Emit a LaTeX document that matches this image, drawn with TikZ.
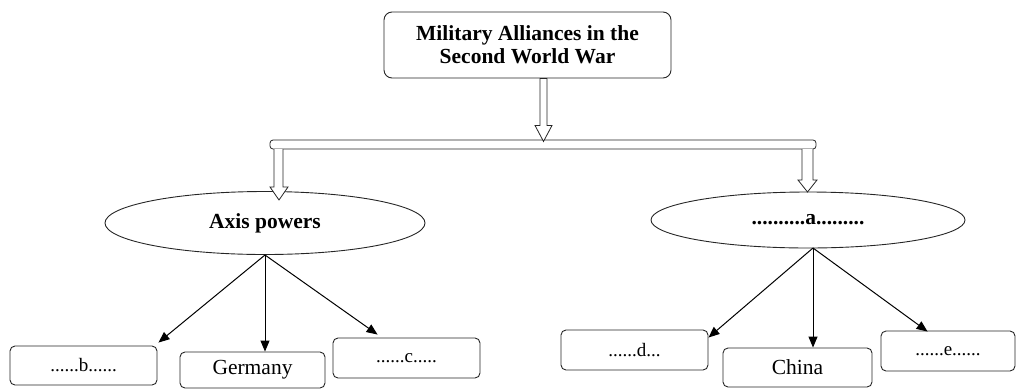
\documentclass[tikz,border=0pt]{standalone}
\usepackage{fontspec}
\setmainfont{Liberation Serif}
\usetikzlibrary{shapes.geometric,arrows.meta,calc}

\tikzset{
  line/.style={draw=black!85, line width=0.9pt},
  titlebox/.style={line, rounded corners=8pt, rectangle, align=center,
    minimum width=287pt, minimum height=66pt, inner sep=0pt,
    font=\fontsize{21.5}{23}\selectfont\bfseries},
  group/.style={line, ellipse, inner sep=0pt, font=\fontsize{21.5}{24}\selectfont\bfseries},
  leaf/.style={line, rounded corners=5pt, rectangle, inner sep=0pt,
    font=\fontsize{21.5}{24}\selectfont},
  blank/.style={leaf, font=\fontsize{19}{22}\selectfont},
  branch/.style={draw=black, line width=1pt, -{Triangle[length=11pt,width=9pt]}},
  hollow/.style={line, fill=white, line width=0.8pt}
}

\begin{document}
\begin{tikzpicture}[x=1pt,y=-1pt]
\useasboundingbox (0,0) rectangle (1019,389);

% heading
\node[titlebox] (title) at (527.5,45) {Military Alliances in the\\Second World War};

% the two alliances
\node[group, minimum width=320pt, minimum height=63pt] (axis) at (265,223) {Axis powers};
\node[group, minimum width=314pt, minimum height=56pt] (allies) at (808,220) {..........a.........};

% member countries
\node[blank, minimum width=147pt, minimum height=39pt] (b) at (83.5,365.5) {......b......};
\node[leaf,  minimum width=145pt, minimum height=36pt] (germany) at (252.5,370) {Germany};
\node[blank, minimum width=147pt, minimum height=40pt] (c) at (406.5,358) {......c.....};
\node[blank, minimum width=147pt, minimum height=40pt] (d) at (634.5,350) {......d...};
\node[leaf,  minimum width=149pt, minimum height=39pt] (china) at (797.5,367.5) {China};
\node[blank, minimum width=134pt, minimum height=40pt] (e) at (948,351) {......e......};

% block-arrow frame: down from the heading onto a bar, then down to each alliance
\coordinate (barL) at (270,140);
\coordinate (barR) at (816,149);
\draw[hollow, rounded corners=3pt] (barL) rectangle (barR);

\draw[hollow] ($(title.south)+(19.5,0)$) coordinate (m)
  -- ++(0,47) -- ++(5,0) -- ++(-8.5,16) -- ++(-8.5,-16) -- ++(5,0)
  -- ++(0,-47) -- cycle;
\draw[hollow] (274,149) -- (274,187) -- (270,187) -- (279,200) -- (288,187)
  -- (283,187) -- (283,149);
\draw[hollow] (802,149) -- (802,180) -- (798,180) -- (807.5,192) -- (817,180)
  -- (813,180) -- (813,149);

% branches to the members
\coordinate (axisfoot) at (265,255);
\coordinate (alliesfoot) at (813,248);
\draw[branch] (axisfoot) -- ($(b.north east)+(1,-3)$);
\draw[branch] (axisfoot) -- (axisfoot |- germany.north);
\draw[branch] (axisfoot) -- ($(c.north west)+(45,-3)$);
\draw[branch] (alliesfoot) -- ($(d.north east)+(0,8)$);
\draw[branch] (alliesfoot) -- (alliesfoot |- china.north);
\draw[branch] (alliesfoot) -- ($(e.north west)+(47,1)$);
\end{tikzpicture}
\end{document}
